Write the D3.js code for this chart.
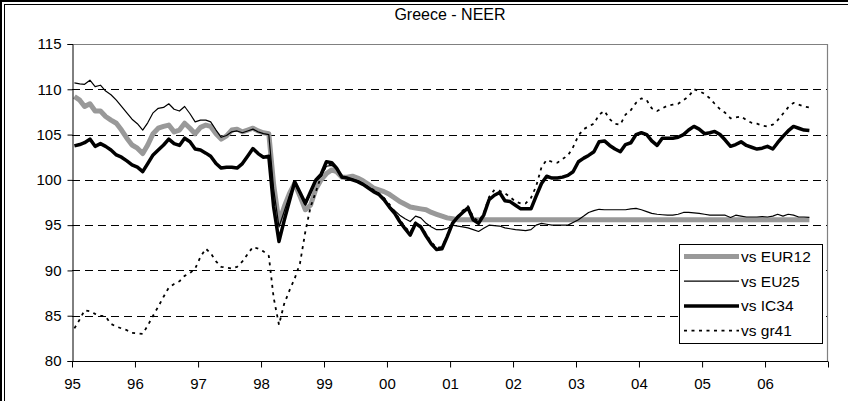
<!DOCTYPE html>
<html>
<head>
<meta charset="utf-8">
<script src="https://cdn.jsdelivr.net/npm/d3@7"></script>
<style>
  html, body { margin: 0; padding: 0; background: #fff; }
  svg text { font-family: Arial, "Liberation Sans", sans-serif; fill: #000; }
</style>
</head>
<body>
<svg id="chart" width="848" height="401"></svg>
<script>
// monthly data, Jan 1995 .. Sep 2006 (141 months)
const firstMonth = new Date(1995, 0, 15);

const eur12 = [
  109.2,108.8,108.1,108.4,107.6,107.6,107.0,106.6,106.25,105.5,104.6,103.85,103.5,102.9,103.85,105.1,105.7,105.9,106.05,105.3,
  105.5,106.25,105.7,105.1,105.8,106.05,105.9,105.1,104.5,104.85,105.5,105.6,105.3,105.5,105.7,105.4,105.2,105.1,99.5,95.3,
  97.0,98.5,99.6,98.2,96.7,97.2,99.0,100.0,100.7,101.1,100.9,100.3,100.3,100.4,100.2,99.9,99.5,99.1,98.9,98.7,
  98.4,98.0,97.6,97.3,97.0,96.9,96.8,96.7,96.4,96.2,96.0,95.8,95.7,95.6,95.6,95.6,95.6,95.6,95.6,95.6,
  95.6,95.6,95.6,95.6,95.6,95.6,95.6,95.6,95.6,95.6,95.6,95.6,95.6,95.6,95.6,95.6,95.6,95.6,95.6,95.6,
  95.6,95.6,95.6,95.6,95.6,95.6,95.6,95.6,95.6,95.6,95.6,95.6,95.6,95.6,95.6,95.6,95.6,95.6,95.6,95.6,
  95.6,95.6,95.6,95.6,95.6,95.6,95.6,95.6,95.6,95.6,95.6,95.6,95.6,95.6,95.6,95.6,95.6,95.6,95.6,95.6,
  95.6
];

const eu25 = [
  110.7,110.6,110.55,111.0,110.3,110.45,109.8,109.4,108.8,108.1,107.4,106.7,106.2,105.5,106.3,107.4,107.9,108.0,108.4,107.8,
  107.6,108.1,107.3,106.4,106.6,106.6,106.4,105.5,104.7,104.9,105.3,105.4,105.2,105.4,105.6,105.3,105.1,105.0,99.0,94.8,
  96.5,98.3,99.7,98.4,97.2,98.5,99.8,100.4,101.5,101.6,101.2,100.2,100.2,100.1,99.9,99.6,99.2,98.8,98.5,98.0,
  97.1,96.6,96.1,95.7,95.4,96.0,95.8,95.2,94.8,94.5,94.5,94.65,95.0,94.9,94.8,94.7,94.5,94.3,94.65,95.0,
  94.95,94.9,94.7,94.6,94.5,94.45,94.4,94.5,95.0,95.2,95.1,95.0,95.0,95.0,95.0,95.3,95.6,96.0,96.4,96.6,
  96.75,96.7,96.7,96.7,96.7,96.7,96.8,96.85,96.7,96.5,96.3,96.2,96.15,96.1,96.1,96.2,96.4,96.4,96.35,96.3,
  96.2,96.1,96.1,96.1,96.1,95.85,96.1,96.0,95.9,95.9,95.9,95.95,95.9,96.0,96.2,96.0,96.2,96.1,95.9,95.9,
  95.85
];

const ic34 = [
  103.75,103.9,104.1,104.5,103.7,104.0,103.7,103.3,102.75,102.5,102.1,101.65,101.4,100.9,101.8,102.75,103.3,103.85,104.5,104.0,
  103.8,104.6,104.2,103.4,103.3,102.95,102.6,101.8,101.3,101.4,101.4,101.3,101.8,102.6,103.45,102.9,102.5,102.6,97.0,93.2,
  95.5,97.7,99.8,98.6,97.4,98.7,100.0,100.6,102.0,101.9,101.3,100.3,100.2,100.0,99.8,99.5,99.1,98.7,98.4,97.8,
  97.0,96.3,95.4,94.6,93.9,95.2,94.8,93.8,92.9,92.3,92.4,93.7,95.2,95.9,96.4,96.9,95.6,95.2,96.1,97.8,
  98.3,98.6,97.7,97.6,97.2,96.8,96.8,96.8,98.2,99.6,100.4,100.2,100.2,100.3,100.5,100.9,102.0,102.4,102.7,103.1,
  104.2,104.3,103.8,103.4,103.1,103.9,104.1,105.0,105.2,105.0,104.3,103.8,104.6,104.6,104.6,104.7,105.0,105.5,105.9,105.6,
  105.1,105.2,105.35,105.0,104.4,103.7,103.9,104.2,103.8,103.6,103.4,103.5,103.7,103.4,104.1,104.8,105.4,105.9,105.7,105.5,
  105.45
];

const gr41 = [
  83.6,84.6,85.6,85.5,85.2,85.0,84.9,84.1,83.8,83.6,83.4,83.1,83.05,83.0,83.9,85.0,86.0,87.1,88.1,88.5,
  88.8,89.4,89.7,90.2,91.5,92.4,91.9,91.0,90.4,90.3,90.2,90.4,91.0,91.8,92.6,92.4,92.1,91.6,87.0,84.0,
  86.3,87.8,89.1,90.8,94.3,97.0,98.7,100.4,101.6,101.8,101.2,100.3,100.2,100.0,99.9,99.5,99.2,98.9,98.5,98.0,
  97.3,96.5,95.6,94.8,94.2,95.3,94.9,94.0,93.1,92.5,92.6,93.8,95.3,96.0,96.6,97.1,95.9,95.4,96.3,98.1,
  98.9,98.8,98.5,98.1,97.6,97.4,97.4,98.0,99.3,101.4,102.2,102.0,101.9,102.3,102.7,103.6,104.9,105.6,105.9,106.2,
  107.2,107.6,106.7,106.2,106.1,107.2,107.7,108.5,109.0,108.8,107.9,107.6,107.9,108.2,108.3,108.4,108.8,109.2,110.0,109.8,
  109.5,109.0,108.4,107.8,107.4,106.8,106.9,107.0,106.6,106.3,106.2,106.0,105.9,106.1,106.6,107.3,108.0,108.5,108.3,108.1,
  108.0
];

const yTicks = [80, 85, 90, 95, 100, 105, 110, 115];
const gridValues = [85, 90, 95, 100, 105, 110];
const years = d3.range(1995, 2008);

const seriesNames = ["vs EUR12", "vs EU25", "vs IC34", "vs gr41"];
const seriesData = [eur12, eu25, ic34, gr41];
const seriesStyle = [
  { color: "#999999", width: 5, dash: null },
  { color: "#000", width: 1.2, dash: null },
  { color: "#000", width: 3.5, dash: null },
  { color: "#000", width: 1.8, dash: "3,4.5" }
];

const svg = d3.select("#chart");

// double border on the left and top (rest of the frame is cropped off)
svg.append("rect").attr("x", 0).attr("y", 0).attr("width", 2).attr("height", 401).attr("fill", "#000");
svg.append("rect").attr("x", 0).attr("y", 0).attr("width", 848).attr("height", 2).attr("fill", "#000");
svg.append("rect").attr("x", 4).attr("y", 4).attr("width", 1).attr("height", 397).attr("fill", "#000");
svg.append("rect").attr("x", 4).attr("y", 4).attr("width", 844).attr("height", 1).attr("fill", "#000");

const plotLeft = 72, plotRight = 828, plotTop = 44, plotBottom = 361;

const x = d3.scaleTime()
  .domain([new Date(1995, 0, 1), new Date(2007, 0, 1)])
  .range([plotLeft, plotRight]);
const y = d3.scaleLinear().domain([80, 115]).range([plotBottom, plotTop]);

const dates = eur12.map((d, i) => d3.timeMonth.offset(firstMonth, i));

// title
svg.append("text")
  .attr("x", 450).attr("y", 20)
  .attr("text-anchor", "middle")
  .style("font-size", "16px")
  .text("Greece - NEER");

// gridlines
svg.append("g").selectAll("line")
  .data(gridValues)
  .join("line")
  .attr("x1", plotLeft).attr("x2", plotRight)
  .attr("y1", d => Math.round(y(d)) + 0.5)
  .attr("y2", d => Math.round(y(d)) + 0.5)
  .attr("stroke", "#000")
  .attr("stroke-width", 1)
  .attr("stroke-dasharray", "8,5");

// grey plot frame, top and right
svg.append("path")
  .attr("d", `M${plotLeft},${plotTop + 0.5}H${plotRight - 0.5}V${plotBottom}`)
  .attr("fill", "none")
  .attr("stroke", "#808080")
  .attr("stroke-width", 1.2);

// series lines
const line = d3.line()
  .x((d, i) => x(dates[i]))
  .y(d => y(d));

seriesData.forEach((vals, idx) => {
  const st = seriesStyle[idx];
  svg.append("path")
    .datum(vals)
    .attr("d", line)
    .attr("fill", "none")
    .attr("stroke", st.color)
    .attr("stroke-width", st.width)
    .attr("stroke-linejoin", "round")
    .attr("stroke-dasharray", st.dash);
});

// axes
const yAxis = svg.append("g")
  .attr("transform", `translate(${plotLeft + 0.5},0)`)
  .call(d3.axisLeft(y).tickValues(yTicks).tickSize(5).tickPadding(6));
yAxis.select(".domain").attr("stroke", "#000");
yAxis.selectAll("text").style("font-size", "15px");

const xAxis = svg.append("g")
  .attr("transform", `translate(0,${plotBottom + 0.5})`)
  .call(d3.axisBottom(x)
    .tickValues(years.map(yr => new Date(yr, 0, 1)))
    .tickSize(6)
    .tickPadding(11)
    .tickFormat(d => d.getFullYear() < 2007 ? d3.timeFormat("%y")(d) : ""));
xAxis.select(".domain").attr("d", `M${plotLeft},0H${plotRight}`);
xAxis.selectAll("text").style("font-size", "15px");

// legend
const legend = svg.append("g");
legend.append("rect")
  .attr("x", 679.5).attr("y", 244.5)
  .attr("width", 143).attr("height", 99)
  .attr("fill", "#fff").attr("stroke", "#000").attr("stroke-width", 1);

seriesNames.forEach((name, idx) => {
  const st = seriesStyle[idx];
  const cy = 256.5 + idx * 24.7;
  legend.append("line")
    .attr("x1", 684).attr("x2", 739)
    .attr("y1", cy).attr("y2", cy)
    .attr("stroke", st.color)
    .attr("stroke-width", st.width)
    .attr("stroke-dasharray", st.dash);
  legend.append("text")
    .attr("x", 741).attr("y", cy)
    .attr("dy", "0.36em")
    .style("font-size", "15.5px")
    .text(name);
});
</script>
</body>
</html>
